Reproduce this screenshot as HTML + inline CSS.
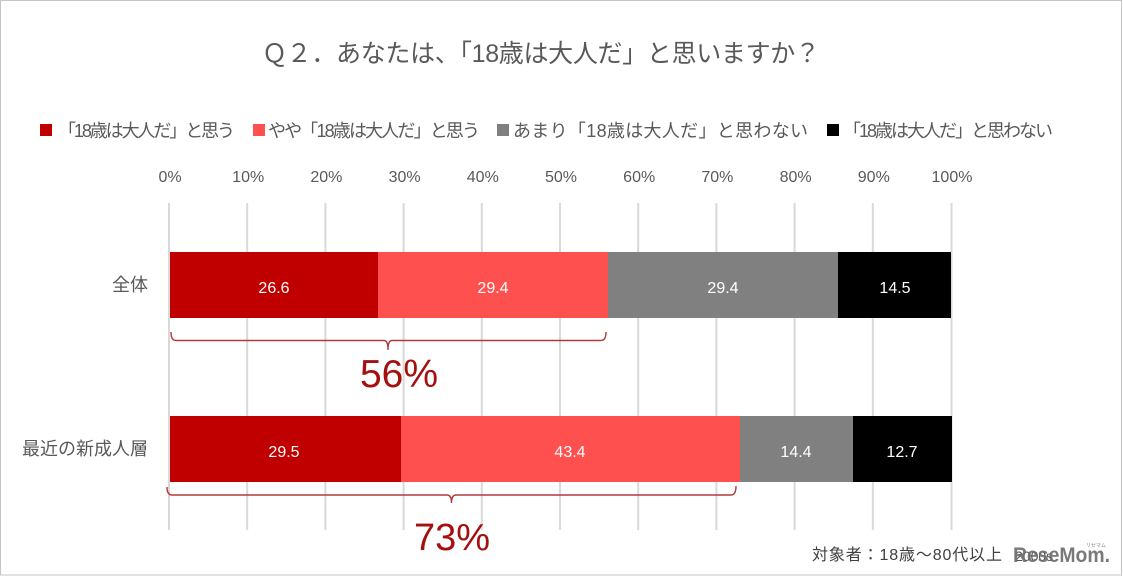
<!DOCTYPE html>
<html>
<head>
<meta charset="utf-8">
<style>
html,body{margin:0;padding:0;background:#fff;}
svg{display:block;font-family:"Liberation Sans","Noto Sans CJK JP",sans-serif;}
</style>
</head>
<body>
<svg width="1123" height="576" viewBox="0 0 1123 576" xmlns="http://www.w3.org/2000/svg">
  <rect x="0" y="0" width="1123" height="576" fill="#fff"/>
  <rect x="0.5" y="0.5" width="1121" height="574.5" fill="none" stroke="#c4c4c4" stroke-width="1"/>

  <!-- Title -->
  <text x="262" y="62" font-size="25" fill="#595959" textLength="558">Ｑ２．あなたは、「18歳は大人だ」と思いますか？</text>

  <!-- Legend -->
  <rect x="40" y="124" width="12" height="12" fill="#c00000"/>
  <text x="58" y="137" font-size="18" fill="#595959" textLength="177">「18歳は大人だ」と思う</text>
  <rect x="253" y="124" width="12" height="12" fill="#ff5050"/>
  <text x="268" y="137" font-size="18" fill="#595959" textLength="212">やや「18歳は大人だ」と思う</text>
  <rect x="497" y="124" width="12" height="12" fill="#808080"/>
  <text x="513" y="137" font-size="18" fill="#595959" textLength="295">あまり「18歳は大人だ」と思わない</text>
  <rect x="827" y="124" width="12" height="12" fill="#000000"/>
  <text x="843" y="137" font-size="18" fill="#595959" textLength="210">「18歳は大人だ」と思わない</text>

  <!-- Axis tick labels -->
  <g font-size="16" fill="#595959" text-anchor="middle">
    <text x="170" y="182">0%</text>
    <text x="248.2" y="182">10%</text>
    <text x="326.4" y="182">20%</text>
    <text x="404.6" y="182">30%</text>
    <text x="482.8" y="182">40%</text>
    <text x="561" y="182">50%</text>
    <text x="639.2" y="182">60%</text>
    <text x="717.4" y="182">70%</text>
    <text x="795.6" y="182">80%</text>
    <text x="873.8" y="182">90%</text>
    <text x="952" y="182">100%</text>
  </g>

  <!-- Gridlines -->
  <g stroke="#d9d9d9" stroke-width="2">
    <line x1="169" y1="203" x2="169" y2="530"/>
    <line x1="247.2" y1="203" x2="247.2" y2="530"/>
    <line x1="325.4" y1="203" x2="325.4" y2="530"/>
    <line x1="403.6" y1="203" x2="403.6" y2="530"/>
    <line x1="481.8" y1="203" x2="481.8" y2="530"/>
    <line x1="560" y1="203" x2="560" y2="530"/>
    <line x1="638.2" y1="203" x2="638.2" y2="530"/>
    <line x1="716.4" y1="203" x2="716.4" y2="530"/>
    <line x1="794.6" y1="203" x2="794.6" y2="530"/>
    <line x1="872.8" y1="203" x2="872.8" y2="530"/>
    <line x1="951.5" y1="203" x2="951.5" y2="530"/>
  </g>

  <!-- Category labels -->
  <g font-size="18" fill="#595959" text-anchor="end">
    <text x="148" y="291">全体</text>
    <text x="148" y="455">最近の新成人層</text>
  </g>

  <!-- Bar 1 -->
  <rect x="170" y="252" width="208" height="66" fill="#c00000"/>
  <rect x="378" y="252" width="230" height="66" fill="#ff5050"/>
  <rect x="608" y="252" width="230" height="66" fill="#808080"/>
  <rect x="838" y="252" width="113" height="66" fill="#000000"/>

  <!-- Bar 2 -->
  <rect x="170" y="416" width="231" height="66" fill="#c00000"/>
  <rect x="401" y="416" width="339" height="66" fill="#ff5050"/>
  <rect x="740" y="416" width="113" height="66" fill="#808080"/>
  <rect x="853" y="416" width="99" height="66" fill="#000000"/>

  <!-- Data labels -->
  <g font-size="16" fill="#ffffff" text-anchor="middle">
    <text x="274" y="293">26.6</text>
    <text x="493" y="293">29.4</text>
    <text x="723" y="293">29.4</text>
    <text x="895" y="293">14.5</text>
    <text x="284" y="457">29.5</text>
    <text x="570" y="457">43.4</text>
    <text x="796" y="457">14.4</text>
    <text x="902" y="457">12.7</text>
  </g>

  <!-- Braces -->
  <g fill="none" stroke="#b03a3a" stroke-width="1.4">
    <path d="M171,332 Q171,340.5 176,340.5 L384,340.5 Q388,340.5 388,350 Q388,340.5 392,340.5 L601,340.5 Q606,340.5 606,332"/>
    <path d="M167,487 Q167,495 172,495 L447,495 Q451.5,495 451.5,503 Q451.5,495 456,495 L731,495 Q736,495 736,486"/>
  </g>

  <!-- Sum labels -->
  <g font-size="39" fill="#a50f0f" text-anchor="middle">
    <text x="399" y="387">56%</text>
    <text x="452" y="550" font-size="38">73%</text>
  </g>

  <!-- Footer -->
  <text x="812" y="560" font-size="16" fill="#404040" textLength="190">対象者：18歳～80代以上</text>
  <text x="1015" y="561" font-size="14" fill="#505050">2000s</text>
  <text x="1013" y="562" font-size="21" font-weight="bold" fill="#6e6e6e" textLength="97" lengthAdjust="spacingAndGlyphs" opacity="0.92">ReseMom.</text>
  <text x="1086" y="547" font-size="5" fill="#888">リセマム</text>
</svg>
</body>
</html>
